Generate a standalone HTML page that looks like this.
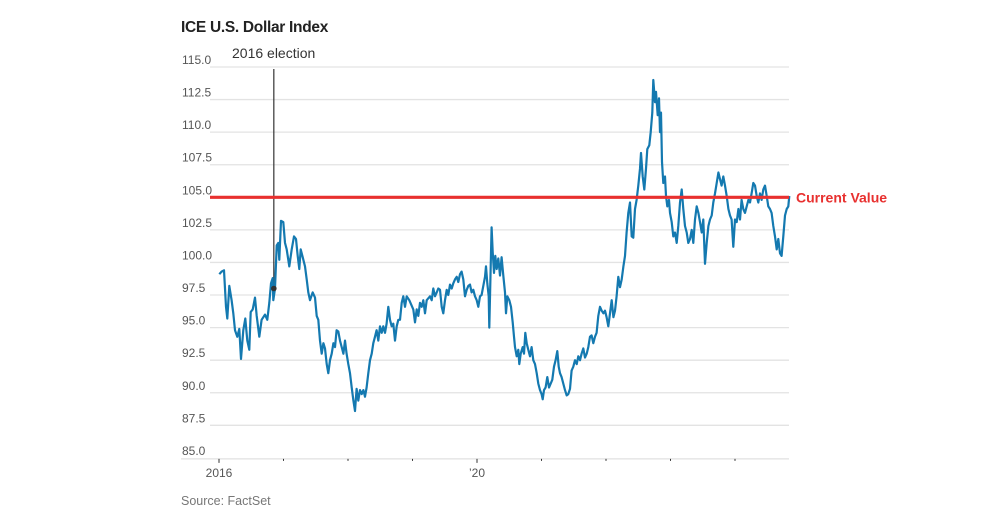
<!DOCTYPE html>
<html><head><meta charset="utf-8"><style>
html,body{margin:0;padding:0;background:#fff;}
svg text{font-family:"Liberation Sans",sans-serif;}
</style></head><body>
<svg id="chart" width="1000" height="523" viewBox="0 0 1000 523" xmlns="http://www.w3.org/2000/svg">
<text x="181" y="32" font-size="15.5" font-weight="bold" fill="#222" letter-spacing="-0.3">ICE U.S. Dollar Index</text>
<g id="grid"></g>
<g id="yLabels"></g>
<g id="xAxis"></g>
<g id="annot"></g>
<g id="series"></g>
<g id="current"></g>
<text x="181" y="505" font-size="12.5" fill="#777">Source: FactSet</text>
</svg>
<script>
const yTicks=[85,87.5,90,92.5,95,97.5,100,102.5,105,107.5,110,112.5,115];
const xTickYears=[2016,2017,2018,2019,2020,2021,2022,2023,2024];
const xTickLabels=["2016","","","","\u201920","","","",""];
const electionDate=2016.85;
const electionValue=98.0;
const currentValue=105.0;
const yearOffsets=[0.005,0.041,0.078,0.109,0.129,0.160,0.196,0.222,0.248,0.284,0.315,0.341,0.377,0.408,0.439,0.470,0.491,0.522,0.558,0.584,0.625,0.661,0.713,0.749,0.780,0.806,0.832,0.842,0.868,0.894,0.920,0.935,0.961,0.997,1.023,1.049,1.090,1.127,1.163,1.194,1.220,1.245,1.266,1.297,1.333,1.359,1.385,1.411,1.452,1.488,1.514,1.540,1.566,1.592,1.618,1.643,1.669,1.695,1.721,1.747,1.773,1.798,1.824,1.850,1.876,1.902,1.928,1.953,1.979,2.005,2.031,2.057,2.083,2.108,2.134,2.160,2.186,2.212,2.238,2.264,2.289,2.315,2.341,2.367,2.393,2.419,2.444,2.470,2.496,2.522,2.548,2.574,2.599,2.625,2.651,2.677,2.703,2.729,2.755,2.780,2.806,2.832,2.858,2.884,2.910,2.951,
3.013,3.039,3.065,3.090,3.116,3.142,3.168,3.194,3.220,3.271,3.297,3.323,3.349,3.375,3.400,3.426,3.452,3.478,3.504,3.530,3.555,3.581,3.607,3.633,3.659,3.685,3.710,3.736,3.762,3.788,3.814,3.840,3.865,3.891,3.917,3.943,3.969,3.995,4.020,4.046,4.072,4.098,4.124,4.139,4.160,4.181,4.191,4.212,4.227,4.243,4.263,4.284,4.305,4.331,4.356,4.382,4.408,4.434,4.449,4.470,4.501,4.527,4.553,4.573,4.589,4.615,4.641,4.656,4.677,4.708,4.728,4.749,4.770,4.796,4.821,4.847,4.873,4.899,4.925,4.951,4.976,5.002,5.018,5.039,5.064,5.090,5.116,5.142,5.168,5.194,5.219,5.245,5.266,5.287,5.312,5.338,5.364,5.390,5.416,5.442,5.467,5.493,5.519,5.545,5.571,5.597,5.622,5.648,5.674,5.700,5.726,5.752,5.777,5.803,5.829,5.855,5.881,
5.907,5.933,5.959,5.985,6.010,6.036,6.062,6.088,6.114,6.140,6.165,6.191,6.217,6.243,6.269,6.295,6.320,6.346,6.372,6.398,6.424,6.450,6.475,6.501,6.527,6.543,6.569,6.594,6.620,6.641,6.672,6.693,6.718,6.734,6.760,6.775,6.801,6.822,6.837,6.853,6.868,6.889,6.915,6.930,6.951,6.977,6.992,7.018,7.044,7.070,7.096,7.121,7.147,7.173,7.199,7.225,7.251,7.276,7.302,7.328,7.354,7.380,7.406,7.432,7.457,7.483,7.509,7.535,7.561,7.587,7.612,7.638,7.664,7.690,7.716,7.742,7.767,7.793,7.819,7.845,7.871,7.897,7.923,7.948,7.974,8.000,8.026,8.052,8.078,8.103,8.129,8.155,8.181,8.207,8.233,8.258,8.284,8.310,8.336,8.362,8.388,8.413,8.439,8.465,8.491,8.517,8.543,8.568,8.594,8.620,8.646,8.672,8.698,8.723,8.749,8.775,8.801,8.827,8.842];
const indexValues=[99.1,99.3,99.4,96.6,95.7,98.2,97.1,96.1,94.8,94.3,94.9,92.6,94.8,95.7,94.0,93.3,96.2,96.4,97.3,95.9,94.3,95.6,96.0,95.6,96.9,98.4,98.8,97.1,98.0,101.3,101.5,100.2,103.2,103.1,101.5,101.0,99.7,101.0,102.0,101.8,100.5,99.5,101.0,100.4,99.7,98.7,97.7,97.1,97.7,97.3,95.9,95.6,94.0,93.0,93.8,93.4,92.2,91.5,92.5,93.0,93.8,93.5,94.8,94.7,94.0,93.5,93.0,94.0,93.0,92.2,91.5,90.4,89.4,88.6,90.3,89.4,90.2,89.9,90.2,89.7,90.4,91.5,92.5,93.0,93.8,94.3,94.8,94.0,95.1,94.6,95.1,94.6,95.3,96.6,95.6,95.1,95.3,94.0,95.1,95.6,95.6,96.9,97.4,96.6,97.4,97.1,
96.4,95.4,96.4,95.9,96.9,96.6,97.1,96.1,97.1,97.4,97.1,98.0,97.4,97.7,98.0,97.9,96.6,96.1,97.1,97.9,97.5,98.3,98.0,98.4,98.7,98.9,98.5,99.1,99.3,98.7,97.4,97.9,98.2,98.3,97.7,97.9,97.4,97.1,96.6,97.4,97.5,98.2,98.9,99.7,98.4,97.4,95.0,99.7,102.7,100.8,99.2,100.5,99.5,100.3,99.0,100.4,99.0,97.7,96.1,97.4,97.1,96.6,95.4,94.3,93.5,92.8,93.3,92.2,93.0,93.5,93.0,94.6,93.8,93.3,92.8,93.5,92.5,92.2,91.5,90.7,90.2,89.9,89.5,90.2,90.4,91.2,90.4,90.7,91.0,92.0,92.5,93.2,92.0,91.5,91.2,90.7,90.2,89.8,89.9,90.3,91.7,92.0,92.5,92.2,92.8,92.5,93.0,93.4,92.7,93.0,93.5,94.3,94.4,93.8,94.3,94.6,95.9,
96.6,96.3,96.1,96.3,95.8,95.1,96.1,97.1,95.8,96.3,97.4,98.9,98.1,98.7,99.7,100.5,102.3,103.8,104.6,102.0,101.9,104.1,104.8,105.9,107.2,108.4,106.6,105.6,107.2,108.7,109.0,110.0,111.5,114.0,112.3,113.1,111.3,112.6,110.0,111.5,107.7,106.1,106.6,105.1,104.3,104.8,103.8,103.1,102.0,102.3,101.5,102.8,104.6,105.6,104.1,102.8,102.3,101.5,101.8,102.5,101.5,103.3,104.3,103.8,103.1,102.3,103.3,99.9,101.5,102.8,103.3,103.6,104.6,105.3,106.1,106.9,106.4,105.9,106.6,105.9,105.1,104.1,103.6,103.3,101.2,103.3,103.1,104.1,103.3,104.8,104.1,103.8,104.3,104.8,104.6,105.3,106.1,105.9,105.1,104.6,105.3,104.8,105.6,105.9,105.1,104.3,104.1,103.8,102.8,102.0,101.0,101.8,100.7,100.5,102.0,103.6,104.1,104.3,105.1];

const NS="http://www.w3.org/2000/svg";
const X0=219, PXY=64.5, Y0=67, PXV=13.03;
const xScale=t=>X0+(t-2016)*PXY;
const yScale=v=>Y0+(115-v)*PXV;
function mk(tag,attrs,parent){const e=document.createElementNS(NS,tag);for(const k in attrs)e.setAttribute(k,attrs[k]);parent.appendChild(e);return e;}

const grid=document.getElementById('grid'), yl=document.getElementById('yLabels');
yTicks.forEach(v=>{
  const y=yScale(v);
  if(v!==85){
    const l=mk('line',{x1:210,x2:789,y1:y,y2:y,stroke:'#e3e3e3','stroke-width':1.3},grid);
    
    
  }
  const t=mk('text',{x:182,y:y-3,'font-size':12,fill:'#555'},yl);
  t.textContent=v.toFixed(1);
  
  
});
const xa=document.getElementById('xAxis');
const base=mk('line',{x1:181,x2:789,y1:yScale(85)+1,y2:yScale(85)+1,stroke:'#e0e0e0','stroke-width':1.3},xa);


xTickYears.forEach((yr,i)=>{
  const x=xScale(yr), y=yScale(85)+1;
  const big=xTickLabels[i]!=="";
  const tk=mk('line',{x1:x,x2:x,y1:y,y2:y+(big?4:2),stroke:'#333','stroke-width':1},xa);
  
  
  if(big){
    const t=mk('text',{x:x,y:y+18,'font-size':12,fill:'#555','text-anchor':'middle'},xa);
    t.textContent=xTickLabels[i];
    
    
  }
});
const an=document.getElementById('annot');
const ex=xScale(electionDate);
const el=mk('line',{x1:ex,x2:ex,y1:yScale(115)+2,y2:yScale(electionValue),stroke:'#333','stroke-width':1.2},an);


const et=mk('text',{x:232,y:58,'font-size':14,fill:'#333'},an);
et.textContent='2016 election';



const s=document.getElementById('series');
let d='';
yearOffsets.forEach((o,i)=>{d+=(i?'L':'M')+xScale(2016+o).toFixed(1)+' '+yScale(indexValues[i]).toFixed(1);});
const p=mk('path',{d:d,fill:'none',stroke:'#1479b0','stroke-width':2.2,'stroke-linejoin':'round'},s);


const dot=mk('circle',{cx:ex,cy:yScale(electionValue),r:2.8,fill:'#333'},s);



const cg=document.getElementById('current');
const cy=yScale(currentValue);
const cl=mk('line',{x1:210,x2:789,y1:cy,y2:cy,stroke:'#e8302f','stroke-width':3.2},cg);


const ct=mk('text',{x:796,y:cy+5,'font-size':14,'font-weight':'bold',fill:'#e8302f'},cg);
ct.textContent='Current Value';


</script>
</body></html>
